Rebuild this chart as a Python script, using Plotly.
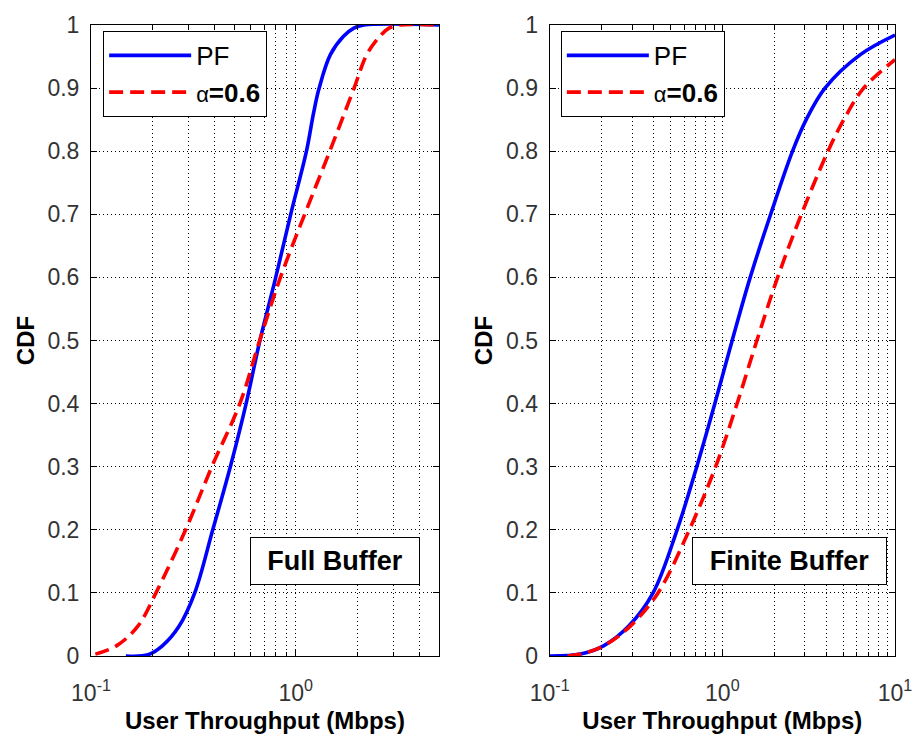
import math
import plotly.graph_objects as go

FONT = "Liberation Sans, Arial, sans-serif"

# ---------------- data ----------------
# Full Buffer panel
fb_pf_x = [0.148, 0.19, 0.223, 0.269, 0.321, 0.393, 0.479, 0.572, 0.668, 0.798,
           0.944, 1.127, 1.22, 1.30, 1.475, 1.71, 1.92, 2.15, 5.0]
fb_pf_y = [0.0, 0.002, 0.016, 0.047, 0.1, 0.2, 0.3, 0.4, 0.5, 0.6,
           0.7, 0.8, 0.86, 0.9, 0.953, 0.982, 0.995, 1.0, 1.0]
fb_a_x = [0.105, 0.133, 0.169, 0.2076, 0.2897, 0.389, 0.533, 0.666, 0.841,
          1.105, 1.465, 1.925, 2.22, 2.57, 2.85, 3.2, 5.0]
fb_a_y = [0.003, 0.016, 0.047, 0.1, 0.2, 0.3, 0.4, 0.5, 0.6,
          0.7, 0.8, 0.9, 0.953, 0.982, 0.995, 1.0, 1.0]

# Finite Buffer panel
fin_pf_x = [0.1, 0.151, 0.205, 0.286, 0.397, 0.547, 0.711, 0.905, 1.14, 1.45,
            1.905, 2.55, 3.06, 3.93, 6.3, 10.0]
fin_pf_y = [0.0, 0.003, 0.016, 0.047, 0.1, 0.2, 0.3, 0.4, 0.5, 0.6,
            0.7, 0.8, 0.85, 0.9, 0.953, 0.984]
fin_a_x = [0.127, 0.151, 0.205, 0.292, 0.424, 0.644, 0.914, 1.217, 1.585, 2.09,
           2.87, 4.09, 5.05, 6.58, 10.0]
fin_a_y = [0.0, 0.003, 0.016, 0.047, 0.1, 0.2, 0.3, 0.4, 0.5, 0.6,
           0.7, 0.8, 0.85, 0.9, 0.945]

series_names = ["PF", "<span style='font-size:22px'>α</span><b>=0.6</b>"]
panel_labels = ["Full Buffer", "Finite Buffer"]
x_title = "User Throughput (Mbps)"
y_title = "CDF"
left_xticks = [0.1, 1]
left_xtext = ["10<sup>-1</sup>", "10<sup>0</sup>"]
right_xticks = [0.1, 1, 10]
right_xtext = ["10<sup>-1</sup>", "10<sup>0</sup>", "10<sup>1</sup>"]
left_xmax = 5.0
right_xmax = 10.0

# ---------------- figure ----------------
W, H = 924, 742
BLUE = "#0000ff"
RED = "#ff0000"
LW = 3.6
DASH = "14px,7px"
SMOOTH = 1.0

fig = go.Figure()
fig.add_trace(go.Scatter(x=fb_pf_x, y=fb_pf_y, mode="lines", name=series_names[0],
                         line=dict(color=BLUE, width=LW, shape="spline", smoothing=SMOOTH),
                         xaxis="x", yaxis="y", legend="legend"))
fig.add_trace(go.Scatter(x=fb_a_x, y=fb_a_y, mode="lines", name=series_names[1],
                         line=dict(color=RED, width=LW, dash=DASH, shape="spline", smoothing=SMOOTH),
                         xaxis="x", yaxis="y", legend="legend"))
fig.add_trace(go.Scatter(x=fin_pf_x, y=fin_pf_y, mode="lines", name=series_names[0],
                         line=dict(color=BLUE, width=LW, shape="spline", smoothing=SMOOTH),
                         xaxis="x2", yaxis="y2", legend="legend2"))
fig.add_trace(go.Scatter(x=fin_a_x, y=fin_a_y, mode="lines", name=series_names[1],
                         line=dict(color=RED, width=LW, dash=DASH, shape="spline", smoothing=SMOOTH),
                         xaxis="x2", yaxis="y2", legend="legend2"))

L, R, T, B = 91, 19, 20, 86
pw = W - L - R
ph = H - T - B
x1_dom = [0, (443.3 - L) / pw]
x2_dom = [(555.4 - L) / pw, 1]

grid = dict(showgrid=True, gridcolor="black", gridwidth=1, griddash="1px,3px")
axis_common = dict(showline=True, linecolor="black", linewidth=1, mirror="allticks",
                   ticks="inside", ticklen=6, tickcolor="black", zeroline=False,
                   tickfont=dict(family=FONT, size=23, color="#333333"), **grid)

minor_left = [m * 10 ** e for e in (-1, 0) for m in range(2, 10) if m * 10 ** e < left_xmax]
minor_right = [m * 10 ** e for e in (-1, 0) for m in range(2, 10)]


def xaxis(dom, tv, tt, xmax, minor_vals, anchor):
    return dict(type="log", domain=dom, range=[-1, math.log10(xmax)], anchor=anchor,
                tickmode="array", tickvals=tv, ticktext=tt, ticklabelstandoff=16,
                minor=dict(tickmode="array", tickvals=minor_vals, ticks="inside", ticklen=4,
                           tickcolor="black", **grid),
                title=dict(text="<b>" + x_title + "</b>", font=dict(family=FONT, size=24, color="black"),
                           standoff=7),
                **axis_common)


def yaxis(anchor):
    return dict(range=[0, 1], dtick=0.1, tick0=0, anchor=anchor, ticklabelstandoff=6,
                title=dict(text="<b>" + y_title + "</b>", font=dict(family=FONT, size=24, color="black"),
                           standoff=6),
                **axis_common)


legend_common = dict(xanchor="left", yanchor="top", bgcolor="white", bordercolor="black",
                     borderwidth=1, font=dict(family=FONT, size=26, color="black"),
                     itemwidth=82, traceorder="normal", xref="paper", yref="paper")


def ann(text, cx, cy, w):
    return dict(text="<b>" + text + "</b>", x=(cx - L) / pw, y=1 - (cy - T) / ph,
                xref="paper", yref="paper", showarrow=False, xanchor="center", yanchor="middle",
                font=dict(family=FONT, size=27, color="black"), bgcolor="white",
                bordercolor="black", borderwidth=1, borderpad=0, width=w, height=46)


fig.update_layout(
    width=W, height=H, margin=dict(l=L, r=R, t=T, b=B),
    paper_bgcolor="white", plot_bgcolor="white",
    xaxis=xaxis(x1_dom, left_xticks, left_xtext, left_xmax, minor_left, "y"),
    xaxis2=xaxis(x2_dom, right_xticks, right_xtext, right_xmax, minor_right, "y2"),
    yaxis=yaxis("x"),
    yaxis2=yaxis("x2"),
    legend=dict(x=(103.3 - L) / pw, y=1 - (26 - T) / ph, **legend_common),
    legend2=dict(x=(566.7 - L) / pw, y=1 - (26 - T) / ph, **legend_common),
    showlegend=True,
    annotations=[ann(panel_labels[0], 338, 560, 168), ann(panel_labels[1], 798.5, 560, 193)],
)

fig.write_html("out.html")
